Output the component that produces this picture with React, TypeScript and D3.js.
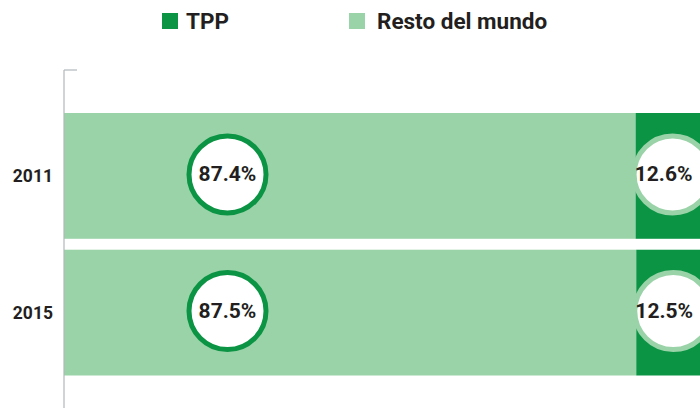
import React from "react";
import * as d3 from "d3";

const years = ["2011", "2015"];
const restoValues = [87.4, 87.5];
const tppValues = [12.6, 12.5];
const seriesNames = ["TPP", "Resto del mundo"];

const W = 700;
const H = 408;
const DARK = "#0b9444";
const LIGHT = "#9ad3a8";
const TEXT = "#231f20";
const FONT = "Roboto, 'Noto Sans', sans-serif";

export default function App() {
  const x = d3.scaleLinear().domain([0, 100]).range([64, 718]);
  const y = d3.scaleBand().domain(years).range([113, 375.5]).paddingInner(0.08).paddingOuter(0);
  const data = years.map((yr, i) => ({ yr, resto: restoValues[i], tpp: tppValues[i] }));

  return (
    <svg width={W} height={H} style={{ position: "absolute", left: 0, top: 0, fontFamily: FONT }}>
      {/* legend */}
      <g>
        <rect x={162} y={13} width={16} height={16} fill={DARK} />
        <text x={186} y={28.5} fontSize={22.5} fontWeight={700} fill={TEXT}>{seriesNames[0]}</text>
        <rect x={349} y={13} width={16} height={16} fill={LIGHT} />
        <text x={377} y={28.5} fontSize={22.5} fontWeight={700} fill={TEXT}>{seriesNames[1]}</text>
      </g>

      {/* bars */}
      {data.map((d) => {
        const y0 = y(d.yr)!;
        const bh = y.bandwidth();
        const cy = y0 + bh / 2;
        const xStart = x(d.resto);
        return (
          <g key={d.yr}>
            <rect x={x(0)} y={y0} width={x(d.resto) - x(0)} height={bh} fill={LIGHT} />
            <rect x={xStart} y={y0} width={x(d.resto + d.tpp) - xStart} height={bh} fill={DARK} />
            <text x={53} y={cy + 6.5} textAnchor="end" fontSize={17.5} fontWeight={700} fill={TEXT}>{d.yr}</text>
            <circle cx={x(25)} cy={cy - 1.5} r={38.5} fill="#fff" stroke={DARK} strokeWidth={5} />
            <text x={x(25)} y={cy + 5.5} textAnchor="middle" fontSize={21} fontWeight={700} fill={TEXT}>{d.resto.toFixed(1)}%</text>
            <circle cx={xStart + 37} cy={cy - 1.5} r={38.5} fill="#fff" stroke={LIGHT} strokeWidth={5} />
            <text x={xStart + 28} y={cy + 5.5} textAnchor="middle" fontSize={21} fontWeight={700} fill={TEXT}>{d.tpp.toFixed(1)}%</text>
          </g>
        );
      })}

      {/* axis */}
      <line x1={64} x2={64} y1={70} y2={H} stroke="#b3b8bb" strokeWidth={1.2} />
      <line x1={64} x2={77} y1={70} y2={70} stroke="#b3b8bb" strokeWidth={1.2} />
    </svg>
  );
}
